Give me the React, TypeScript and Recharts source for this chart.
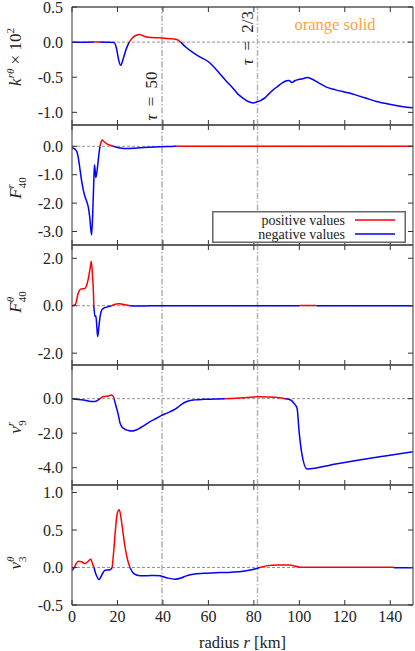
import React from 'react';
import { LineChart, Line, XAxis, YAxis, ReferenceLine, Legend } from 'recharts';

const FONT = '"Liberation Serif", "Times New Roman", serif';
const RED = '#ff0000';
const BLUE = '#0000ff';
const AXIS = '#555555';
const TICK = '#333333';

// shared x axis
const rTicks = [0, 20, 40, 60, 80, 100, 120, 140];
const tauRadii = [39.6, 81.6];
const tauLabels = ['τ = 50', 'τ = 2/3'];
const annotation = 'orange solid';
const legendLabels = ['positive values', 'negative values'];

// y ticks per panel
const kTicks = [0.5, 0, -0.5, -1.0];
const frTicks = [0, -1, -2, -3];
const fthTicks = [2, 0, -2];
const vrTicks = [0, -2, -4];
const vthTicks = [1.0, 0.5, 0, -0.5];

// [radius, value]
const kPoints: [number, number][] = [
  [0, -0.002], [5, -0.002], [9.8, 0], [10.5, 0.003], [11.6, 0.003], [12.2, 0], [15, -0.002],
  [18.5, -0.005], [19.5, -0.08], [20.5, -0.25], [21.4, -0.33], [22.5, -0.24], [23.8, -0.1],
  [25.2, 0], [26.5, 0.06], [28, 0.095], [29.8, 0.108], [31, 0.095], [32.8, 0.072], [35, 0.065],
  [38.7, 0.062], [42, 0.05], [46, 0.038], [47.8, 0], [50, -0.07], [53.3, -0.15], [56.2, -0.21],
  [60, -0.28], [62, -0.34], [65, -0.45], [68, -0.56], [70.9, -0.66], [73, -0.74], [75.3, -0.8],
  [77.5, -0.845], [79.7, -0.865], [81.5, -0.85], [83.3, -0.825], [85, -0.79], [86.5, -0.74],
  [88.5, -0.68], [90.5, -0.63], [92.5, -0.58], [94.4, -0.55], [95.5, -0.545], [96.7, -0.575],
  [98, -0.55], [100, -0.53], [101.5, -0.52], [103.4, -0.505], [105.5, -0.525], [108.5, -0.58],
  [111.9, -0.64], [116, -0.68], [122, -0.725], [126, -0.765], [129.5, -0.8], [134, -0.845],
  [139.7, -0.885], [145, -0.915], [150, -0.935],
];

const frPoints: [number, number][] = [
  [0, -0.05], [1.3, -0.1], [2.2, -0.2], [2.8, -0.42], [3.5, -0.8], [4.2, -1.2], [5.0, -1.55],
  [5.7, -1.77], [6.5, -1.95], [7.2, -2.15], [7.8, -2.5], [8.6, -3.12], [9.1, -2.4], [9.6, -1.2],
  [9.9, -0.65], [10.5, -1.1], [11.2, -0.75], [11.8, -0.3], [12.3, 0], [12.8, 0.15], [13.3, 0.22],
  [14, 0.17], [15.5, 0.08], [17, 0.03], [18.2, 0], [20, -0.04], [22, -0.07], [24, -0.08],
  [27, -0.07], [30, -0.05], [34, -0.03], [38.6, -0.012], [44, -0.004], [46, 0], [50, 0.002],
  [150, 0.002],
];

const fthPoints: [number, number][] = [
  [0, 0], [1.2, 0.03], [1.8, 0.12], [2.5, 0.45], [3.2, 0.64], [4.0, 0.71], [4.7, 0.72],
  [5.5, 0.72], [6.2, 0.8], [7.2, 1.15], [8.0, 1.6], [8.5, 1.87], [9.0, 1.3], [9.4, 0.6],
  [9.6, 0], [10.1, -0.46], [10.5, -0.42], [11.0, -1.0], [11.3, -1.3], [11.8, -0.9],
  [12.3, -0.5], [13.0, -0.2], [14, -0.1], [15.2, -0.06], [17.4, 0], [19, 0.06], [20.4, 0.08],
  [22, 0.065], [24, 0.03], [25.5, 0], [28, -0.012], [35, -0.005], [99.5, -0.005], [100, 0],
  [100.5, 0.004], [107, 0.004], [107.5, 0], [108, -0.005], [150, -0.005],
];

const vrPoints: [number, number][] = [
  [0, 0], [5, -0.08], [9.4, -0.17], [10.5, -0.15], [12.3, 0], [13.8, 0.12], [16, 0.16],
  [17.4, 0.21], [18.2, 0.12], [18.5, 0], [19.5, -0.5], [20.4, -0.95], [21.1, -1.4],
  [21.8, -1.6], [23.2, -1.76], [24.8, -1.84], [26.2, -1.87], [27.6, -1.84], [29.1, -1.76],
  [31.5, -1.58], [34.3, -1.33], [37, -1.15], [39.4, -0.97], [42, -0.82], [44.5, -0.67],
  [46.5, -0.5], [48.5, -0.3], [50.5, -0.16], [52, -0.1], [54, -0.07], [57.7, -0.04],
  [63, -0.02], [67.2, 0], [70, 0.01], [75, 0.05], [80, 0.1], [82, 0.11], [86, 0.1],
  [91.4, 0.06], [93.6, 0], [95.5, -0.04], [96.5, -0.1], [97.5, -0.25], [99, -0.56],
  [99.9, -1.91], [101.2, -3.26], [103.4, -4.08], [116, -3.78], [125, -3.58], [137, -3.33],
  [150, -3.07],
];

const vthPoints: [number, number][] = [
  [0, -0.04], [1, 0], [1.8, 0.05], [2.8, 0.085], [4.2, 0.076], [5.7, 0.054], [7.2, 0.085],
  [8.3, 0.11], [9, 0.05], [9.7, 0], [10.3, -0.07], [10.8, -0.11], [11.9, -0.16], [13.1, -0.1],
  [14.5, -0.036], [16.7, -0.03], [17.7, 0], [18.3, 0.2], [18.9, 0.43], [19.9, 0.72],
  [20.8, 0.77], [21.8, 0.61], [22.5, 0.45], [23.3, 0.28], [24.3, 0.12], [25.5, 0],
  [26.8, -0.07], [28.4, -0.1], [30, -0.11], [32.8, -0.11], [36, -0.105], [38.7, -0.11],
  [42, -0.14], [45.3, -0.156], [48, -0.14], [50, -0.115], [53.3, -0.09], [58, -0.078],
  [65, -0.068], [70, -0.062], [75.3, -0.05], [79, -0.03], [82.6, 0], [86, 0.025], [90, 0.035],
  [95.8, 0.032], [98, 0.02], [100.5, 0.003], [141, 0.002], [141.5, 0], [142, -0.002],
  [150, -0.002],
];

const splitSigns = (pts: [number, number][]) =>
  pts.map(([r, v]) => ({ r, pos: v >= 0 ? v : null, neg: v <= 0 ? v : null }));

const LeftTick = (props: any) => {
  const { x, y, payload } = props;
  return (
    <g>
      <line x1={x} x2={x + 5} y1={y} y2={y} stroke={TICK} strokeWidth={1} />
      <text x={x - 9} y={y} dy={5.5} textAnchor="end" fontFamily={FONT} fontSize={16} fill="#222">
        {Number(payload.value).toFixed(1)}
      </text>
    </g>
  );
};
const RightTick = (props: any) => {
  const { x, y } = props;
  return <line x1={x} x2={x - 5} y1={y} y2={y} stroke={TICK} strokeWidth={1} />;
};
const TopTick = (props: any) => {
  const { x, y } = props;
  return <line x1={x} x2={x} y1={y} y2={y + 5} stroke={TICK} strokeWidth={1} />;
};
const BottomTick = (props: any) => {
  const { x, y } = props;
  return <line x1={x} x2={x} y1={y} y2={y - 5} stroke={TICK} strokeWidth={1} />;
};
const BottomLabelTick = (props: any) => {
  const { x, y, payload } = props;
  return (
    <g>
      <line x1={x} x2={x} y1={y} y2={y - 5} stroke={TICK} strokeWidth={1} />
      <text x={x} y={y + 17} textAnchor="middle" fontFamily={FONT} fontSize={16} fill="#222">
        {payload.value}
      </text>
    </g>
  );
};

type TitleKind = 'k' | 'fr' | 'fth' | 'vr' | 'vth';

const titleContent = (kind: TitleKind, dy: number) => (props: any) => {
  const vb = props.viewBox || {};
  const x = 21;
  const y = (vb.y || 0) + (vb.height || 0) / 2 + dy;
  const sup = { fontSize: 11 };
  let body: React.ReactNode = null;
  if (kind === 'k') {
    body = (
      <>
        <tspan fontStyle="italic">k</tspan>
        <tspan fontStyle="italic" {...sup} dy={-7}>rθ</tspan>
        <tspan dy={7}> × 10</tspan>
        <tspan {...sup} dy={-7}>2</tspan>
      </>
    );
  } else if (kind === 'fr' || kind === 'fth') {
    body = (
      <>
        <tspan fontStyle="italic">F</tspan>
        <tspan fontStyle="italic" {...sup} dy={-7}>{kind === 'fr' ? 'r' : 'θ'}</tspan>
        <tspan {...sup} dx={kind === 'fr' ? -4 : -5.5} dy={12}>40</tspan>
      </>
    );
  } else {
    body = (
      <>
        <tspan fontStyle="italic">v</tspan>
        <tspan fontStyle="italic" {...sup} dy={-7}>{kind === 'vr' ? 'r' : 'θ'}</tspan>
        <tspan {...sup} dx={kind === 'vr' ? -4 : -5.5} dy={12}>{kind === 'vr' ? '9' : '3'}</tspan>
      </>
    );
  }
  return (
    <text
      x={x}
      y={y}
      transform={`rotate(-90 ${x} ${y})`}
      textAnchor="middle"
      fontFamily={FONT}
      fontSize={17}
      fill="#222"
    >
      {body}
    </text>
  );
};

const tauLabelContent = (i: number) => (props: any) => {
  const vb = props.viewBox || {};
  const x = (vb.x || 0) - 5;
  const y = (vb.y || 0) + (i === 0 ? 89 : 31);
  return (
    <text
      x={x}
      y={y}
      transform={`rotate(-90 ${x} ${y})`}
      textAnchor="middle"
      fontFamily={FONT}
      fontSize={17}
      fill="#222"
      style={{ wordSpacing: 4 }}
    >
      <tspan fontStyle="italic">τ</tspan>
      <tspan>{tauLabels[i].slice(1)}</tspan>
    </text>
  );
};

const annotationContent = (props: any) => {
  const vb = props.viewBox || {};
  return (
    <text
      x={(vb.x || 0) + 263}
      y={(vb.y || 0) + 23.5}
      textAnchor="middle"
      fontFamily={FONT}
      fontSize={16.5}
      fill="#ffa040"
    >
      {annotation}
    </text>
  );
};

const xTitleContent = (props: any) => {
  const vb = props.viewBox || {};
  const cx = (vb.x || 0) + (vb.width || 0) / 2;
  return (
    <text x={cx} y={(vb.y || 0) + 43} textAnchor="middle" fontFamily={FONT} fontSize={16.5} fill="#222">
      <tspan>radius </tspan>
      <tspan fontStyle="italic">r</tspan>
      <tspan> [km]</tspan>
    </text>
  );
};

const renderLegend = () => (
  <svg width={194} height={32} style={{ display: 'block' }}>
    <rect x={0.75} y={0.75} width={192.5} height={30.5} fill="#ffffff" stroke="#666" strokeWidth={1.5} />
    <text x={133} y={13.5} textAnchor="end" fontFamily={FONT} fontSize={14} fill="#222">
      {legendLabels[0]}
    </text>
    <line x1={143} x2={183} y1={9} y2={9} stroke={RED} strokeWidth={1.5} />
    <text x={133} y={27.5} textAnchor="end" fontFamily={FONT} fontSize={14} fill="#222">
      {legendLabels[1]}
    </text>
    <line x1={143} x2={183} y1={23} y2={23} stroke={BLUE} strokeWidth={1.5} />
  </svg>
);

type PanelProps = {
  top: number;
  plotH: number;
  domain: [number, number];
  ticks: number[];
  points: [number, number][];
  title: TitleKind;
  titleDy: number;
  first?: boolean;
  last?: boolean;
  legend?: boolean;
};

const Panel = ({ top, plotH, domain, ticks, points, title, titleDy, first, last, legend }: PanelProps) => {
  const mb = last ? 46 : 10;
  const height = plotH + 10 + mb;
  const data = splitSigns(points);
  return (
    <div style={{ position: 'absolute', left: 0, top: top - 10, width: 415, height }}>
      <LineChart width={415} height={height} data={data} margin={{ top: 9, right: 1, bottom: mb - 1, left: 0 }}>
        <XAxis
          dataKey="r"
          type="number"
          domain={[0, 150]}
          ticks={rTicks}
          allowDataOverflow
          interval={0}
          height={1}
          tickSize={0}
          tickMargin={0}
          tickLine={false}
          axisLine={{ stroke: AXIS, strokeWidth: 1.5 }}
          tick={last ? <BottomLabelTick /> : <BottomTick />}
          label={last ? { content: xTitleContent } : undefined}
        />
        <XAxis
          xAxisId="top"
          orientation="top"
          dataKey="r"
          type="number"
          domain={[0, 150]}
          ticks={rTicks}
          allowDataOverflow
          interval={0}
          height={1}
          tickSize={0}
          tickMargin={0}
          tickLine={false}
          axisLine={{ stroke: AXIS, strokeWidth: 1.5 }}
          tick={<TopTick />}
          label={first ? { content: annotationContent } : undefined}
        />
        <YAxis
          type="number"
          domain={domain}
          ticks={ticks}
          allowDataOverflow
          interval={0}
          width={72}
          tickSize={0}
          tickMargin={0}
          tickLine={false}
          axisLine={{ stroke: AXIS, strokeWidth: 1.2 }}
          tick={<LeftTick />}
          label={{ content: titleContent(title, titleDy) }}
        />
        <YAxis
          yAxisId="right"
          orientation="right"
          type="number"
          domain={domain}
          ticks={ticks}
          allowDataOverflow
          interval={0}
          width={1}
          tickSize={0}
          tickMargin={0}
          tickLine={false}
          axisLine={{ stroke: AXIS, strokeWidth: 1.2 }}
          tick={<RightTick />}
        />
        <ReferenceLine y={0} stroke="#888" strokeWidth={0.9} strokeDasharray="3 2" />
        {tauRadii.map((r, i) => (
          <ReferenceLine
            key={r}
            x={r}
            stroke="#b3b3b3"
            strokeWidth={1.5}
            strokeDasharray="6 2 1.5 2"
            label={first ? { content: tauLabelContent(i) } : undefined}
          />
        ))}
        <Line
          dataKey="pos"
          type="monotone"
          stroke={RED}
          strokeWidth={1.5}
          dot={false}
          connectNulls={false}
          isAnimationActive={false}
          name={legendLabels[0]}
        />
        <Line
          dataKey="neg"
          type="monotone"
          stroke={BLUE}
          strokeWidth={1.5}
          dot={false}
          connectNulls={false}
          isAnimationActive={false}
          name={legendLabels[1]}
        />
        {legend && (
          <Legend
            layout="horizontal"
            verticalAlign="middle"
            align="center"
            content={renderLegend}
            wrapperStyle={{ position: 'absolute', left: 212, top: 96, width: 194, height: 32 }}
          />
        )}
      </LineChart>
    </div>
  );
};

export default function App() {
  return (
    <div style={{ position: 'absolute', left: 0, top: 0, width: 415, height: 651, overflow: 'hidden', background: '#fff' }}>
      <Panel top={7} plotH={118} domain={[-1.18, 0.5]} ticks={kTicks} points={kPoints} title="k" titleDy={-9} first />
      <Panel top={125} plotH={120} domain={[-3.475, 0.75]} ticks={frTicks} points={frPoints} title="fr" titleDy={3} legend />
      <Panel top={245} plotH={120} domain={[-2.5, 2.56]} ticks={fthTicks} points={fthPoints} title="fth" titleDy={-3} />
      <Panel top={365} plotH={120} domain={[-5, 1.95]} ticks={vrTicks} points={vrPoints} title="vr" titleDy={2} />
      <Panel top={485} plotH={120} domain={[-0.5, 1.1]} ticks={vthTicks} points={vthPoints} title="vth" titleDy={18} last />
    </div>
  );
}
